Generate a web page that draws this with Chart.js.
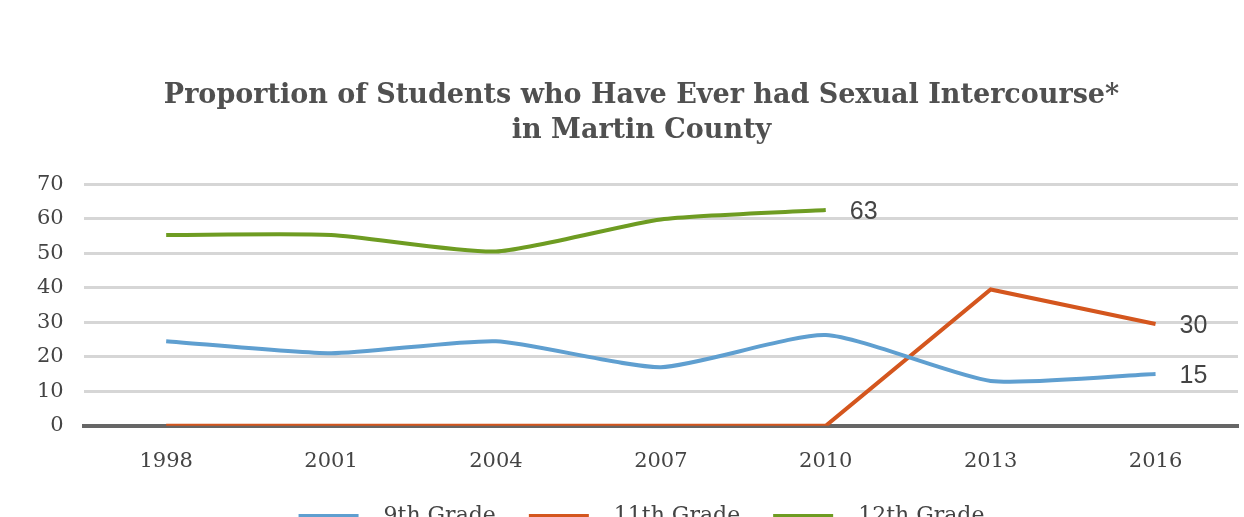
<!DOCTYPE html>
<html>
<head>
<meta charset="utf-8">
<script src="https://cdn.jsdelivr.net/npm/chart.js@4"></script>
<style>
  html, body { margin: 0; padding: 0; background: #fff; overflow: hidden; }
  #wrap { width: 1272px; height: 537px; }
</style>
</head>
<body>
<div id="wrap"><canvas id="myChart"></canvas></div>
<script>
'use strict';
let years = ['1998', '2001', '2004', '2007', '2010', '2013', '2016'];
let grade9 = [24.5, 21, 24.5, 17, 26.3, 13, 15];
let grade11 = [0, 0, 0, 0, 0, 39.5, 29.5];
let grade12 = [55.3, 55.3, 50.5, 59.8, 62.5, null, null];
let yTicks = [0, 10, 20, 30, 40, 50, 60, 70];
let titleLines = ['Proportion of Students who Have Ever had Sexual Intercourse*', 'in Martin County'];

// writes the last value of each line beside its end
let endLabels = {
    id: 'endLabels',
    afterDatasetsDraw(chart) {
        let ctx = chart.ctx;
        ctx.save();
        ctx.font = '25px "Liberation Sans", Arial, sans-serif';
        ctx.fillStyle = '#444';
        ctx.textAlign = 'left';
        ctx.textBaseline = 'middle';
        chart.data.datasets.forEach(function(ds, i) {
            let meta = chart.getDatasetMeta(i);
            let last = -1;
            for (let j = 0; j < ds.data.length; j++) {
                if (ds.data[j] !== null) last = j;
            }
            if (last < 0) return;
            let pt = meta.data[last];
            ctx.fillText(Math.round(ds.data[last]), pt.x + 24, pt.y + 2);
        });
        ctx.restore();
    }
};

let ctx = document.getElementById('myChart').getContext('2d');
let myChart = new Chart(ctx, {
    type: 'line',
    data: {
        labels: years,
        datasets: [{
            label: '9th Grade',
            data: grade9,
            borderColor: '#5f9fd0',
            backgroundColor: '#5f9fd0',
            borderWidth: 4,
            tension: 0.2
        }, {
            label: '11th Grade',
            data: grade11,
            borderColor: '#d4561e',
            backgroundColor: '#d4561e',
            borderWidth: 4,
            tension: 0
        }, {
            label: '12th Grade',
            data: grade12,
            borderColor: '#6e9c22',
            backgroundColor: '#6e9c22',
            borderWidth: 4,
            tension: 0.2
        }]
    },
    options: {
        responsive: true,
        maintainAspectRatio: false,
        animation: false,
        layout: { padding: { left: 17, right: 6, bottom: 0 } },
        elements: { point: { radius: 0, hoverRadius: 0 } },
        plugins: {
            title: {
                display: true,
                text: titleLines,
                color: '#505050',
                font: { family: '"DejaVu Serif", serif', size: 27, weight: 'bold', lineHeight: 1.3 },
                padding: { top: 78, bottom: 36 }
            },
            legend: {
                position: 'bottom',
                labels: {
                    color: '#444',
                    font: { family: '"DejaVu Serif", serif', size: 22 },
                    boxWidth: 60,
                    boxHeight: 4,
                    padding: 33,
                    generateLabels(chart) {
                        return Chart.defaults.plugins.legend.labels.generateLabels(chart).map(function(l) {
                            l.lineWidth = 0;
                            l.text = '  ' + l.text;
                            return l;
                        });
                    }
                }
            },
            tooltip: { enabled: false }
        },
        scales: {
            x: {
                offset: true,
                grid: { display: false, drawTicks: false },
                border: { display: true, color: '#666', width: 4 },
                afterFit(axis) {
                    axis.height -= 25;
                },
                ticks: {
                    color: '#444',
                    padding: 23,
                    font: { family: '"DejaVu Serif", serif', size: 21 }
                }
            },
            y: {
                min: 0,
                max: 70,
                afterBuildTicks(axis) {
                    axis.ticks = yTicks.map(function(v) { return { value: v }; });
                },
                grid: { color: '#d6d6d6', lineWidth: 3, drawTicks: false },
                border: { display: false },
                ticks: {
                    color: '#444',
                    padding: 20,
                    font: { family: '"DejaVu Serif", serif', size: 21 }
                }
            },
            // empty right-hand gutter, keeps the title centred like the original
            gutter: {
                position: 'right',
                grid: { display: false },
                border: { display: false },
                ticks: { display: false },
                afterFit(axis) {
                    axis.width = 28;
                }
            }
        }
    },
    plugins: [endLabels]
});
</script>
</body>
</html>
